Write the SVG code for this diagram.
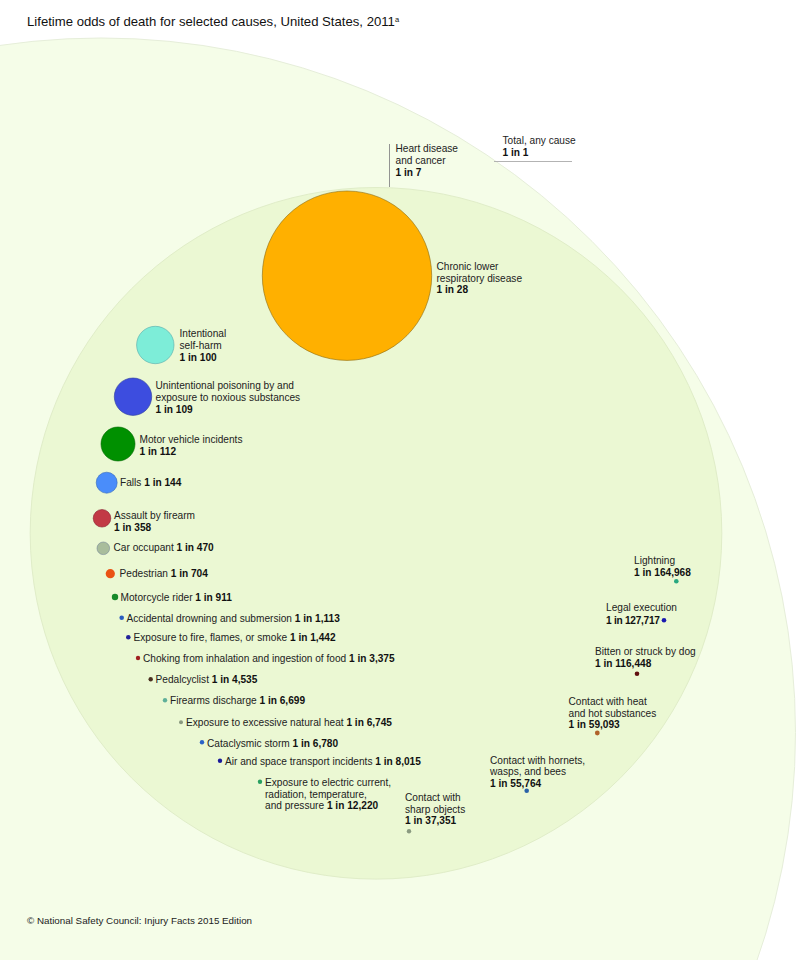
<svg xmlns="http://www.w3.org/2000/svg" width="807" height="960" viewBox="0 0 807 960">
<style>
text{font-family:"Liberation Sans",Arial,sans-serif;font-size:10.15px;fill:#222}
.b{font-weight:700;fill:#111}
.t{font-size:13.15px;fill:#111}
.f{font-size:9.8px}
.d{stroke-width:.6}
.c{fill:none;stroke-width:.9}
</style>
<rect width="807" height="960" fill="#fff"/>
<g id="total"><circle cx="101" cy="732.500" r="694.500" fill="#f5fde8" stroke="#e6eeda"/><text x="502.500" y="144">Total, any cause</text><text class="b" x="502.500" y="156">1 in 1</text></g>
<g id="heart"><circle cx="376" cy="533.300" r="345.800" fill="#ebf8d3" stroke="#e0edc8"/><text x="395.500" y="152">Heart disease</text><text x="395.500" y="164">and cancer</text><text class="b" x="395.500" y="176">1 in 7</text></g>
<g id="connectors"><path class="c" stroke="#aaa" d="M494 161.500H572"/><path class="c" stroke="#888" d="M389.500 144V187"/></g>
<text class="t" x="27" y="26">Lifetime odds of death for selected causes, United States, 2011<tspan font-size="7.500" dy="-4">a</tspan></text>
<g id="chronic"><circle class="d" cx="347" cy="275.700" r="84.700" fill="#ffb000" stroke="#8a6a10"/><text x="436.500" y="270">Chronic lower</text><text x="436.500" y="281.500">respiratory disease</text><text class="b" x="436.500" y="293">1 in 28</text></g>
<g id="selfharm"><circle class="d" cx="155.300" cy="345" r="18.700" fill="#7dedd8" stroke="#5aa"/><text x="179.500" y="337">Intentional</text><text x="179.500" y="349">self-harm</text><text class="b" x="179.500" y="361">1 in 100</text></g>
<g id="poisoning"><circle class="d" cx="133" cy="396.700" r="18.700" fill="#3d4ddf" stroke="#2a3a9a"/><text x="155.500" y="389">Unintentional poisoning by and</text><text x="155.500" y="400.500">exposure to noxious substances</text><text class="b" x="155.500" y="412.500">1 in 109</text></g>
<g id="motor"><circle class="d" cx="118" cy="444" r="17" fill="#009000" stroke="#060"/><text x="139.500" y="442.500">Motor vehicle incidents</text><text class="b" x="139.500" y="455">1 in 112</text></g>
<g id="falls"><circle class="d" cx="106.700" cy="482.700" r="10.500" fill="#4a8dfa" stroke="#36b"/><text x="120" y="486">Falls <tspan class="b">1 in 144</tspan></text></g>
<g id="assault"><circle class="d" cx="102" cy="518.300" r="8.800" fill="#c23a45" stroke="#823"/><text x="114" y="519">Assault by firearm</text><text class="b" x="114" y="530.500">1 in 358</text></g>
<g id="car"><circle class="d" cx="103.300" cy="548.300" r="6.300" fill="#a9bd9c" stroke="#789"/><text x="113.500" y="551">Car occupant <tspan class="b">1 in 470</tspan></text></g>
<g id="pedestrian"><circle cx="110.300" cy="573.700" r="4.600" fill="#ea5214"/><text x="119.500" y="577">Pedestrian <tspan class="b">1 in 704</tspan></text></g>
<g id="motorcycle"><circle cx="115" cy="597" r="3.200" fill="#168a2a"/><text x="120.500" y="601">Motorcycle rider <tspan class="b">1 in 911</tspan></text></g>
<g id="drowning"><circle cx="121.700" cy="617.700" r="2.300" fill="#2a5cc0"/><text x="126.500" y="622">Accidental drowning and submersion <tspan class="b">1 in 1,113</tspan></text></g>
<g id="fire"><circle cx="128.300" cy="637.300" r="2.300" fill="#22229a"/><text x="133.500" y="641">Exposure to fire, flames, or smoke <tspan class="b">1 in 1,442</tspan></text></g>
<g id="choking"><circle cx="138" cy="658" r="2.200" fill="#a02020"/><text x="143" y="662">Choking from inhalation and ingestion of food <tspan class="b">1 in 3,375</tspan></text></g>
<g id="pedalcyclist"><circle cx="150.700" cy="679.300" r="2.200" fill="#4a3020"/><text x="155.500" y="683">Pedalcyclist <tspan class="b">1 in 4,535</tspan></text></g>
<g id="discharge"><circle cx="165" cy="700.300" r="2.200" fill="#5fb09a"/><text x="170" y="704">Firearms discharge <tspan class="b">1 in 6,699</tspan></text></g>
<g id="naturalheat"><circle cx="181" cy="722.300" r="2" fill="#8a9a80"/><text x="186" y="726">Exposure to excessive natural heat <tspan class="b">1 in 6,745</tspan></text></g>
<g id="storm"><circle cx="202" cy="742.300" r="2.200" fill="#2a62c8"/><text x="207" y="746.500">Cataclysmic storm <tspan class="b">1 in 6,780</tspan></text></g>
<g id="air"><circle cx="220" cy="760.700" r="2.200" fill="#1a1a9a"/><text x="225" y="765">Air and space transport incidents <tspan class="b">1 in 8,015</tspan></text></g>
<g id="electric"><circle cx="260" cy="781.700" r="2.200" fill="#28a060"/><text x="265" y="786">Exposure to electric current,</text><text x="265" y="798">radiation, temperature,</text><text x="265" y="809">and pressure <tspan class="b">1 in 12,220</tspan></text></g>
<g id="sharp"><circle cx="409" cy="831.300" r="2.200" fill="#8a9a80"/><text x="405" y="801">Contact with</text><text x="405" y="813">sharp objects</text><text class="b" x="405" y="824">1 in 37,351</text></g>
<g id="hornets"><circle cx="526.700" cy="790.700" r="2.300" fill="#2a62a8"/><text x="490" y="763.500">Contact with hornets,</text><text x="490" y="775">wasps, and bees</text><text class="b" x="490" y="787">1 in 55,764</text></g>
<g id="hotsubstances"><circle cx="597.300" cy="733" r="2.400" fill="#b0622a"/><text x="568.500" y="704.500">Contact with heat</text><text x="568.500" y="716.500">and hot substances</text><text class="b" x="568.500" y="728">1 in 59,093</text></g>
<g id="dog"><circle cx="637" cy="673.700" r="2.300" fill="#601010"/><text x="595" y="654.500">Bitten or struck by dog</text><text class="b" x="595" y="666.500">1 in 116,448</text></g>
<g id="legal"><circle cx="664" cy="620.300" r="2.300" fill="#1a1ab0"/><text x="606" y="611">Legal execution</text><text class="b" x="606" y="623.500" textLength="54">1 in 127,717</text></g>
<g id="lightning"><circle cx="676.300" cy="581.300" r="2.300" fill="#28a880"/><text x="634" y="564">Lightning</text><text class="b" x="634" y="575.500">1 in 164,968</text></g>
<text class="f" x="27" y="924">© National Safety Council: Injury Facts 2015 Edition</text>
</svg>
